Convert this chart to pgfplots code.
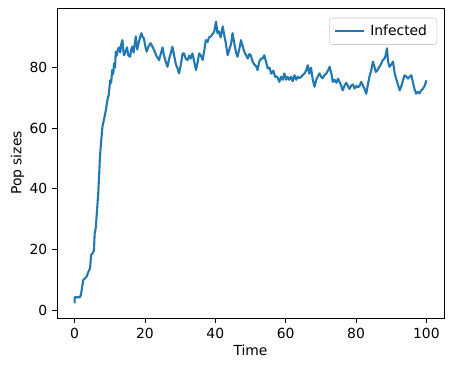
\documentclass[border=0pt]{standalone}
\usepackage{pgfplots}
\pgfplotsset{compat=1.18}
\usepackage{fontspec}
\setmainfont{DejaVu Sans}
\definecolor{mplblue}{HTML}{1F77B4}
\begin{document}
\begin{tikzpicture}
\useasboundingbox (-41.04pt,-38.16pt) rectangle (285.84pt,228.96pt);
\begin{axis}[
  at={(0,0)}, anchor=south west,
  scale only axis, width=278.64pt, height=223.2pt,
  xmin=-5, xmax=105, ymin=-2.65, ymax=99.7,
  xtick={0,20,40,60,80,100}, ytick={0,20,40,60,80},
  tick align=outside, tick pos=left, major tick length=3.5pt,
  tick style={black, line width=0.6pt},
  axis line style={line width=0.6pt},
  /pgf/number format/assume math mode=true,
  ticklabel style={font=\fontsize{10}{12}\selectfont},
  label style={font=\fontsize{10}{12}\selectfont},
  xlabel={Time}, ylabel={Pop sizes},
  xlabel style={yshift=2pt}, ylabel style={yshift=-3pt},
  legend style={at={(1,1)}, anchor=north east, xshift=-5pt, yshift=-7pt,
    draw=black!20, rounded corners=2pt, font=\fontsize{10}{12}\selectfont,
    inner xsep=3pt, inner ysep=3pt,
    nodes={inner xsep=4pt}},
  legend cell align=left,
  legend image code/.code={\draw[#1] (0pt,0pt) -- (21pt,0pt);},
]
\addplot[mplblue, line width=1.5pt, line join=round] coordinates {
(0,2.2)(0.05,4.2)(1.5,4.2)(1.8,5)(2.2,8)(2.5,10)(3.0,10.5)(3.4,11)(3.9,12.5)(4.4,13.8)
(4.7,18.3)(5.0,18.5)(5.5,19.6)(5.7,25)(6.0,27)(6.3,31.6)(6.5,35)(6.7,38)(7.0,45)(7.2,50.4)
(7.5,55)(7.9,60.4)(8.2,62)(8.5,63.7)(8.9,66)(9.3,69.2)(9.7,71)(10.1,75.8)(10.4,75)(10.7,79.2)
(11.0,78)(11.2,81.4)(11.5,80)(11.7,85.3)(12.0,84)(12.3,86)(12.6,86.7)(13.0,85)(13.3,88)(13.6,89.1)
(14.0,84.1)(14.4,85)(14.9,86.7)(15.3,84)(15.8,83.6)(16.1,86)(16.4,87)(16.8,85)(17.1,88)(17.4,90.3)
(17.8,86)(18.2,88)(18.6,90)(19.0,91.4)(19.4,90)(19.7,89.7)(20.1,87)(20.5,85.3)(21.0,87)(21.6,88.1)
(22.1,87)(22.6,85.8)(23.2,84)(24.0,82.5)(24.6,85)(25.0,86.7)(25.4,84)(25.9,82)(26.4,80.3)(26.9,83)
(27.4,85)(27.8,86.9)(28.3,84)(28.8,81)(29.2,80)(29.7,78.1)(30.2,81)(30.7,84.7)(31.1,84.7)(31.6,83)
(32.1,82.5)(32.6,84)(33.0,83)(33.5,84.7)(34.0,82)(34.5,79.2)(35.0,82)(35.4,84.7)(35.9,84)(36.4,82.5)
(36.9,86)(37.3,89.1)(37.8,88.5)(38.2,90)(38.7,90.3)(39.2,91)(39.7,92)(40.2,95.2)(40.6,91.4)(41.0,92)
(41.5,90)(42.1,93.6)(42.5,91)(43.0,88)(43.5,84.1)(44.0,86)(44.5,88)(44.9,91.4)(45.4,88)(45.9,85)
(46.3,83.6)(46.8,86)(47.3,89.1)(47.8,87)(48.3,85)(48.8,84)(49.2,83)(49.7,84.5)(50.1,84)(50.6,82)
(51.1,81)(51.6,80.5)(52.0,79.2)(52.5,82)(53.0,83)(53.5,83)(53.9,84.1)(54.4,82)(54.9,79.7)(55.4,80)
(55.9,78)(56.5,79)(57.0,77)(57.6,77)(58.2,75.3)(58.7,77)(59.2,76)(59.6,78.1)(60.1,76)(60.5,77)
(61.0,76)(61.5,77)(62.0,75.5)(62.5,77.5)(63.0,76)(63.4,77)(63.9,76.5)(64.4,77)(64.8,77.5)(65.3,78)
(65.8,79)(66.3,80.8)(66.7,78)(67.2,80)(67.7,76)(68.2,73.7)(68.7,76)(69.1,77)(69.6,78.1)(70.1,77)
(70.5,76.5)(71.0,77.5)(71.5,78)(72.0,79)(72.5,80.3)(73.0,78)(73.4,75.3)(73.9,76)(74.4,75)(74.9,76.4)
(75.4,75)(75.8,74)(76.2,72.5)(76.7,74)(77.2,75)(77.6,74.2)(78.1,73)(78.6,74)(79.1,74.5)(79.6,73.1)
(80.1,74)(80.6,73.5)(81.0,74)(81.5,75.3)(82.0,74)(82.4,73)(82.9,71.4)(83.3,74)(83.8,77)(84.3,79)
(84.8,82)(85.3,80)(85.6,78.6)(86.0,79)(86.5,80)(87.0,81)(87.6,82.5)(88.1,83)(88.4,84)(88.8,86.4)
(89.1,82)(89.5,80.3)(90.0,81)(90.5,82)(91.0,78)(91.5,76)(92.0,74)(92.4,72.5)(92.9,74)(93.4,76)
(93.8,77.5)(94.3,77)(94.8,76.4)(95.2,77)(95.7,77.5)(96.2,75)(96.6,73)(97.1,71.4)(97.6,72)(98.0,71.5)
(98.5,72.5)(99.0,73)(99.5,74)(100,75.8)
};
\addlegendentry{Infected}
\end{axis}
\end{tikzpicture}
\end{document}
